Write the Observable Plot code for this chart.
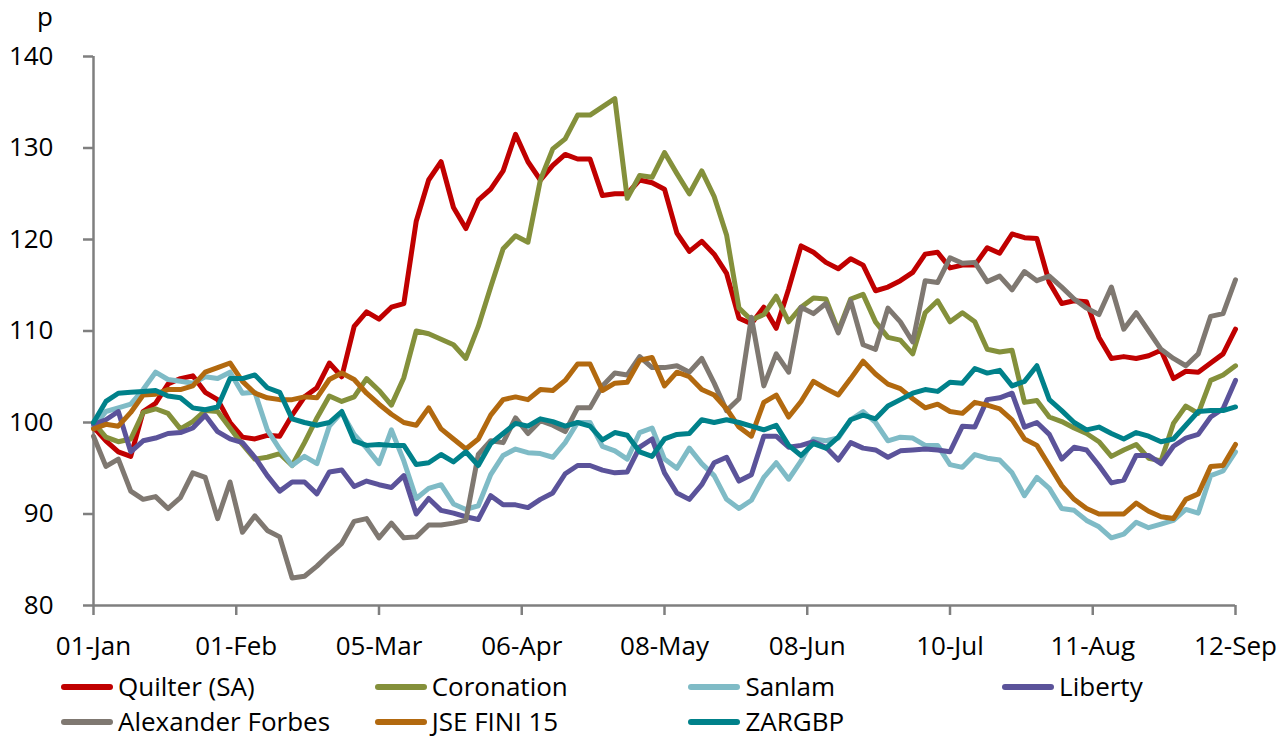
<!DOCTYPE html>
<html><head><meta charset="utf-8">
<script src="https://cdn.jsdelivr.net/npm/d3@7"></script>
<script src="https://cdn.jsdelivr.net/npm/@observablehq/plot@0.6"></script>
<style>
body{margin:0;background:#fff;font-family:"Open Sans",sans-serif;color:#000;}
#legend{position:relative;height:70px;font-size:26px;width:1278px;}
.item{position:absolute;display:flex;align-items:center;white-space:nowrap;height:35px;line-height:35px;}
.sw{width:52px;height:6px;border-radius:3px;margin-right:5px;}
</style></head><body><div id="chart"></div><div id="legend"></div>
<script>
// trading-day index of every sample (every second trading day, 0 = 01-Jan)
const days = d3.range(0, 185, 2);
const tickDays = [0, 23, 46, 69, 92, 115, 138, 161, 184];
const tickLabels = ["01-Jan","01-Feb","05-Mar","06-Apr","08-May","08-Jun","10-Jul","11-Aug","12-Sep"];
const yTicks = [80, 90, 100, 110, 120, 130, 140];

const seriesNames = ["Quilter (SA)","Coronation","Sanlam","Liberty","Alexander Forbes","JSE FINI 15","ZARGBP"];
const seriesColors = ["#C00000","#84903B","#7FBBC6","#5B539A","#7F7871","#B2690F","#00818A"];

const quilter = [99.5,98,96.8,96.3,101.2,102.1,104.2,104.8,105.1,103.3, 102.5,100,98.4,98.2,98.6,98.5,100.8,102.8,103.8,106.5, 105,110.5,112.1,111.3,112.6,113,122,126.5,128.5,123.5, 121.2,124.3,125.5,127.5,131.5,128.5,126.5,128.1,129.3,128.8, 128.8,124.8,125,125,126.5,126.2,125.5,120.7,118.7,119.8, 118.4,116.3,111.4,110.8,112.6,110.3,114.6,119.3,118.6,117.5, 116.8,117.9,117.2,114.4,114.8,115.5,116.4,118.4,118.6,116.9, 117.2,117.2,119.1,118.5,120.6,120.2,120.1,115.3,113,113.3, 113.2,109.3,107,107.2,107,107.3,107.9,104.8,105.6,105.5, 106.5,107.5,110.2];
const coronation = [100,98.4,97.9,98.2,101.1,101.5,101,99.3,100.1,101.3, 101.2,99.4,97.6,96,96.2,96.6,95.3,97.8,100.5,102.9, 102.3,102.8,104.8,103.5,101.9,104.9,110,109.7,109.1,108.5, 107,110.5,114.8,119,120.4,119.7,126.5,129.9,131,133.6, 133.6,134.5,135.4,124.5,127,126.8,129.5,127.2,125,127.5, 124.7,120.5,112.5,111.2,111.8,113.8,111,112.6,113.6,113.5, 110,113.5,114,111,109.3,109,107.5,112,113.3,111, 112,111,108,107.7,107.9,102.2,102.4,100.6,100.1,99.4, 98.8,97.9,96.3,97,97.6,96.1,95.8,99.9,101.8,101, 104.6,105.2,106.2];
const sanlam = [99.5,101.2,101.6,102,103.6,105.5,104.7,104.5,104.3,105, 104.8,105.5,103.2,103.3,99.2,97.1,95.3,96.3,95.5,99.6, 101.1,98.7,97.2,95.5,99.2,95.8,91.7,92.8,93.2,91.1, 90.5,90.9,94.3,96.4,97.1,96.7,96.6,96.2,97.8,100, 100,97.4,96.9,96,98.9,99.4,96,95,97.2,95.5, 94.2,91.6,90.6,91.5,94,95.6,93.8,95.8,98.2,98, 98.3,100.3,101.2,100,98,98.4,98.3,97.5,97.5,95.4, 95.1,96.5,96.1,95.9,94.5,92,94,92.8,90.6,90.4, 89.3,88.6,87.4,87.8,89.1,88.5,88.9,89.3,90.5,90.1, 94.2,94.7,96.8];
const liberty = [99.8,100.3,101.2,96.8,98,98.3,98.8,98.9,99.4,100.8, 99,98.2,97.8,96.2,94.2,92.5,93.5,93.5,92.2,94.6, 94.8,93,93.6,93.2,92.9,94.2,90,91.7,90.4,90.1, 89.7,89.4,92,91,91,90.7,91.6,92.3,94.4,95.3, 95.3,94.8,94.5,94.6,97.3,98.2,94.5,92.3,91.6,93.2, 95.6,96.2,93.6,94.3,98.5,98.5,97.3,97.5,97.9,97.3, 95.9,97.8,97.2,97,96.2,96.9,97,97.1,97,96.8, 99.6,99.5,102.5,102.7,103.2,99.5,100,98.7,96,97.3, 97,95.3,93.4,93.7,96.4,96.4,95.5,97.4,98.3,98.7, 100.6,101.5,104.6];
const alexanderForbes = [98.5,95.2,96,92.5,91.6,91.9,90.6,91.8,94.5,94, 89.5,93.5,88,89.8,88.2,87.5,83,83.2,84.3,85.6, 86.8,89.2,89.5,87.4,89,87.4,87.5,88.8,88.8,89, 89.3,96.5,98,97.8,100.5,98.8,100.2,99.7,99,101.6, 101.6,104,105.4,105.2,107.2,106,106,106.2,105.5,107, 104.3,101.3,102.6,111.5,104,107.5,105.5,112.6,111.9,113, 109.8,113.3,108.5,108,112.5,111,108.8,115.5,115.3,118, 117.4,117.5,115.4,116,114.5,116.5,115.5,116,114.8,113.5, 112.5,111.8,114.8,110.2,112,110,108,107,106.2,107.5, 111.6,111.9,115.6];
const jseFini15 = [99.3,99.8,99.6,101.1,103,103.1,103.6,103.6,104,105.5, 106,106.5,104.5,103.2,102.7,102.5,102.5,102.8,102.7,104.7, 105.4,104.7,103.2,102,100.9,100,99.7,101.6,99.3,98.2, 97.1,98.2,100.8,102.5,102.8,102.5,103.6,103.5,104.6,106.4, 106.4,103.5,104.3,104.4,106.8,107.1,104,105.5,105,103.6, 103,101.5,99.5,98.5,102.2,103,100.6,102.3,104.5,103.7, 103,104.8,106.7,105.3,104.2,103.7,102.6,101.6,102,101.2, 101,102.2,101.9,101.5,100.3,98.2,97.5,95.3,93.1,91.6, 90.6,90,90,90,91.2,90.3,89.7,89.5,91.6,92.2, 95.2,95.3,97.6];
const zargbp = [100,102.3,103.2,103.3,103.4,103.5,102.9,102.7,101.6,101.4, 101.7,104.8,104.8,105.2,103.8,103.3,100.4,100,99.7,100, 101.2,98,97.5,97.6,97.5,97.5,95.4,95.6,96.5,95.7, 96.8,95.3,97.7,98.8,99.9,99.6,100.4,100.1,99.6,100, 99.6,98.1,98.9,98.6,96.8,96.3,98.2,98.7,98.8,100.3, 100,100.3,100,99.6,99.2,99.7,97.5,96.4,97.7,97.2, 98.4,100.3,100.8,100.4,101.8,102.5,103.2,103.6,103.4,104.4, 104.3,105.9,105.4,105.7,104,104.5,106.2,102.5,101.3,100, 99.2,99.5,98.8,98.2,98.9,98.5,97.9,98.2,99.7,101.2, 101.3,101.3,101.7];

const allSeries = [quilter, coronation, sanlam, liberty, alexanderForbes, jseFini15, zargbp];
const rows = [];
allSeries.forEach((vals, s) => vals.forEach((v, k) => rows.push({series: seriesNames[s], day: days[k], value: v})));

const chart = Plot.plot({
  width: 1278, height: 668,
  marginLeft: 93, marginRight: 43, marginTop: 56, marginBottom: 63,
  style: {fontFamily: '"Open Sans", sans-serif', fontSize: "26px", color: "#000", background: "#fff", overflow: "visible"},
  x: {domain: [0, 184], ticks: tickDays, tickFormat: d => tickLabels[tickDays.indexOf(d)], tickSize: 10, tickPadding: 21, label: null},
  y: {domain: [80, 140], ticks: yTicks, tickSize: 10, tickPadding: 30, label: null},
  color: {domain: seriesNames, range: seriesColors},
  marks: [
    Plot.ruleX([0], {stroke: "#7f7f7f", strokeWidth: 2.5}),
    Plot.ruleY([80], {stroke: "#7f7f7f", strokeWidth: 2.5}),
    Plot.line(rows, {x: "day", y: "value", z: "series", stroke: "series", strokeWidth: 5, strokeLinejoin: "round", strokeLinecap: "round"})
  ]
});
document.getElementById("chart").appendChild(chart);
const svg = d3.select(chart);
svg.selectAll('g[aria-label="x-axis tick"], g[aria-label="y-axis tick"]').attr("stroke", "#7f7f7f").attr("stroke-width", 2.5);
svg.selectAll('.tick line').attr("stroke", "#7f7f7f").attr("stroke-width", 2.5);
svg.append("text").attr("x", 53).attr("y", 26).attr("text-anchor", "end")
  .attr("font-family", '"Open Sans", sans-serif').attr("font-size", 26).attr("fill", "#000").text("p");

const legend = document.getElementById("legend");
seriesNames.forEach((name, i) => {
  const col = i % 4, row = Math.floor(i / 4);
  const item = document.createElement("div");
  item.className = "item";
  item.style.left = (61 + col * 313.7) + "px";
  item.style.top = (1 + row * 35) + "px";
  const sw = document.createElement("div");
  sw.className = "sw"; sw.style.background = seriesColors[i];
  const tx = document.createElement("span"); tx.textContent = name;
  item.appendChild(sw); item.appendChild(tx);
  legend.appendChild(item);
});
</script></body></html>
